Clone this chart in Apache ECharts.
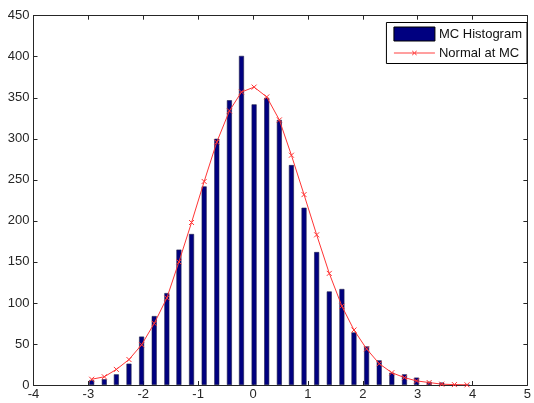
<!DOCTYPE html>
<html>
<head>
<meta charset="utf-8">
<script src="https://cdn.jsdelivr.net/npm/echarts@6/dist/echarts.min.js"></script>
<style>
  html, body { margin: 0; padding: 0; background: #fff; }
  #chart { width: 534px; height: 403px; }
</style>
</head>
<body>
<div id="chart"></div>
<script>
// bin centres of the histogram
var centers = [-2.94, -2.71, -2.49, -2.26, -2.03, -1.80, -1.57, -1.35, -1.12, -0.89,
               -0.66, -0.43, -0.21, 0.02, 0.25, 0.48, 0.70, 0.93, 1.16, 1.39,
               1.62, 1.84, 2.07, 2.30, 2.53, 2.76, 2.98, 3.21, 3.44, 3.67, 3.90];
// counts per bin
var histCounts = [6, 7, 13, 26, 59, 84, 112, 165, 184, 242,
                  300, 347, 401, 342, 350, 323, 268, 216, 162, 114,
                  117, 64, 47, 30, 15, 13, 9, 4, 3, 0, 0];
// normal curve read at each centre
var normalVals = [7, 10, 19, 31, 49, 75, 106, 150, 198, 248,
                  296, 334, 357, 363, 351, 323, 280, 232, 183, 136,
                  96, 67, 44, 26, 15, 9, 5, 3, 1, 0.5, 0.2];
var xTicks = [-4, 5, 1];
var yTicks = [0, 450, 50];
var seriesNames = ['MC Histogram', 'Normal at MC'];

// legend icon for the line: thin line with a small x in the middle
var lineIcon = 'path://M0,2L41,2L41,3L0,3Z' +
    'M18,0.5L18.5,0L23,4.5L22.5,5Z' +
    'M22.5,0L23,0.5L18.5,5L18,4.5Z';

var chart;

function pairs(xs, ys){
    var res = [];
    for (var i = 0; i < xs.length; i++){
        res.push([xs[i], ys[i]]);
    }
    return res;
}

window.onload = function(){
    chart = echarts.init(document.getElementById('chart'), null, {renderer: 'canvas'});

    var axisLine = {show: true, onZero: false, lineStyle: {color: '#262626', width: 1}};
    var tick = {show: true, inside: true, length: 4, lineStyle: {color: '#262626'}};
    var label = {color: '#262626', fontSize: 13, fontFamily: 'Liberation Sans, Arial, sans-serif'};

    var option = {
        animation: false,
        backgroundColor: '#fff',
        grid: {left: 33.5, right: 2.5, top: 15.7, bottom: 18, containLabel: false},
        legend: {
            data: [
                {name: seriesNames[0], icon: 'rect', itemStyle: {borderColor: '#000', borderWidth: 1}},
                {name: seriesNames[1], icon: lineIcon, itemStyle: {color: '#ff4040', borderWidth: 0}}
            ],
            orient: 'vertical',
            right: 7,
            top: 22.5,
            padding: [4, 5, 4, 7],
            itemGap: 5,
            itemWidth: 41,
            itemHeight: 14,
            backgroundColor: '#fff',
            borderColor: '#000',
            borderWidth: 1,
            borderRadius: 0,
            textStyle: {color: '#111', fontSize: 13, fontFamily: 'Liberation Sans, Arial, sans-serif', padding: [0, 0, 0, -1]}
        },
        xAxis: [{
            type: 'value',
            min: xTicks[0], max: xTicks[1], interval: xTicks[2],
            axisLine: axisLine, axisTick: tick,
            axisLabel: Object.assign({margin: 3}, label),
            splitLine: {show: false}
        }, {
            type: 'value', position: 'top',
            min: xTicks[0], max: xTicks[1], interval: xTicks[2],
            axisLine: axisLine, axisTick: tick,
            axisLabel: {show: false}, splitLine: {show: false}
        }],
        yAxis: [{
            type: 'value',
            min: yTicks[0], max: yTicks[1], interval: yTicks[2],
            axisLine: axisLine, axisTick: tick,
            axisLabel: Object.assign({margin: 4}, label),
            splitLine: {show: false}
        }, {
            type: 'value', position: 'right',
            min: yTicks[0], max: yTicks[1], interval: yTicks[2],
            axisLine: axisLine, axisTick: tick,
            axisLabel: {show: false}, splitLine: {show: false}
        }],
        series: [{
            name: seriesNames[0],
            type: 'bar',
            data: pairs(centers, histCounts),
            barWidth: 5,
            itemStyle: {color: '#000080', borderColor: '#20204a', borderWidth: 0.6}
        }, {
            name: seriesNames[1],
            type: 'line',
            data: pairs(centers, normalVals),
            symbol: 'path://M0,0L10,10M10,0L0,10',
            symbolSize: 5,
            showSymbol: true,
            lineStyle: {color: '#ff3535', width: 1},
            itemStyle: {color: '#ff3535', borderColor: '#ff3535', borderWidth: 1}
        }]
    };
    chart.setOption(option);
};
</script>
</body>
</html>
